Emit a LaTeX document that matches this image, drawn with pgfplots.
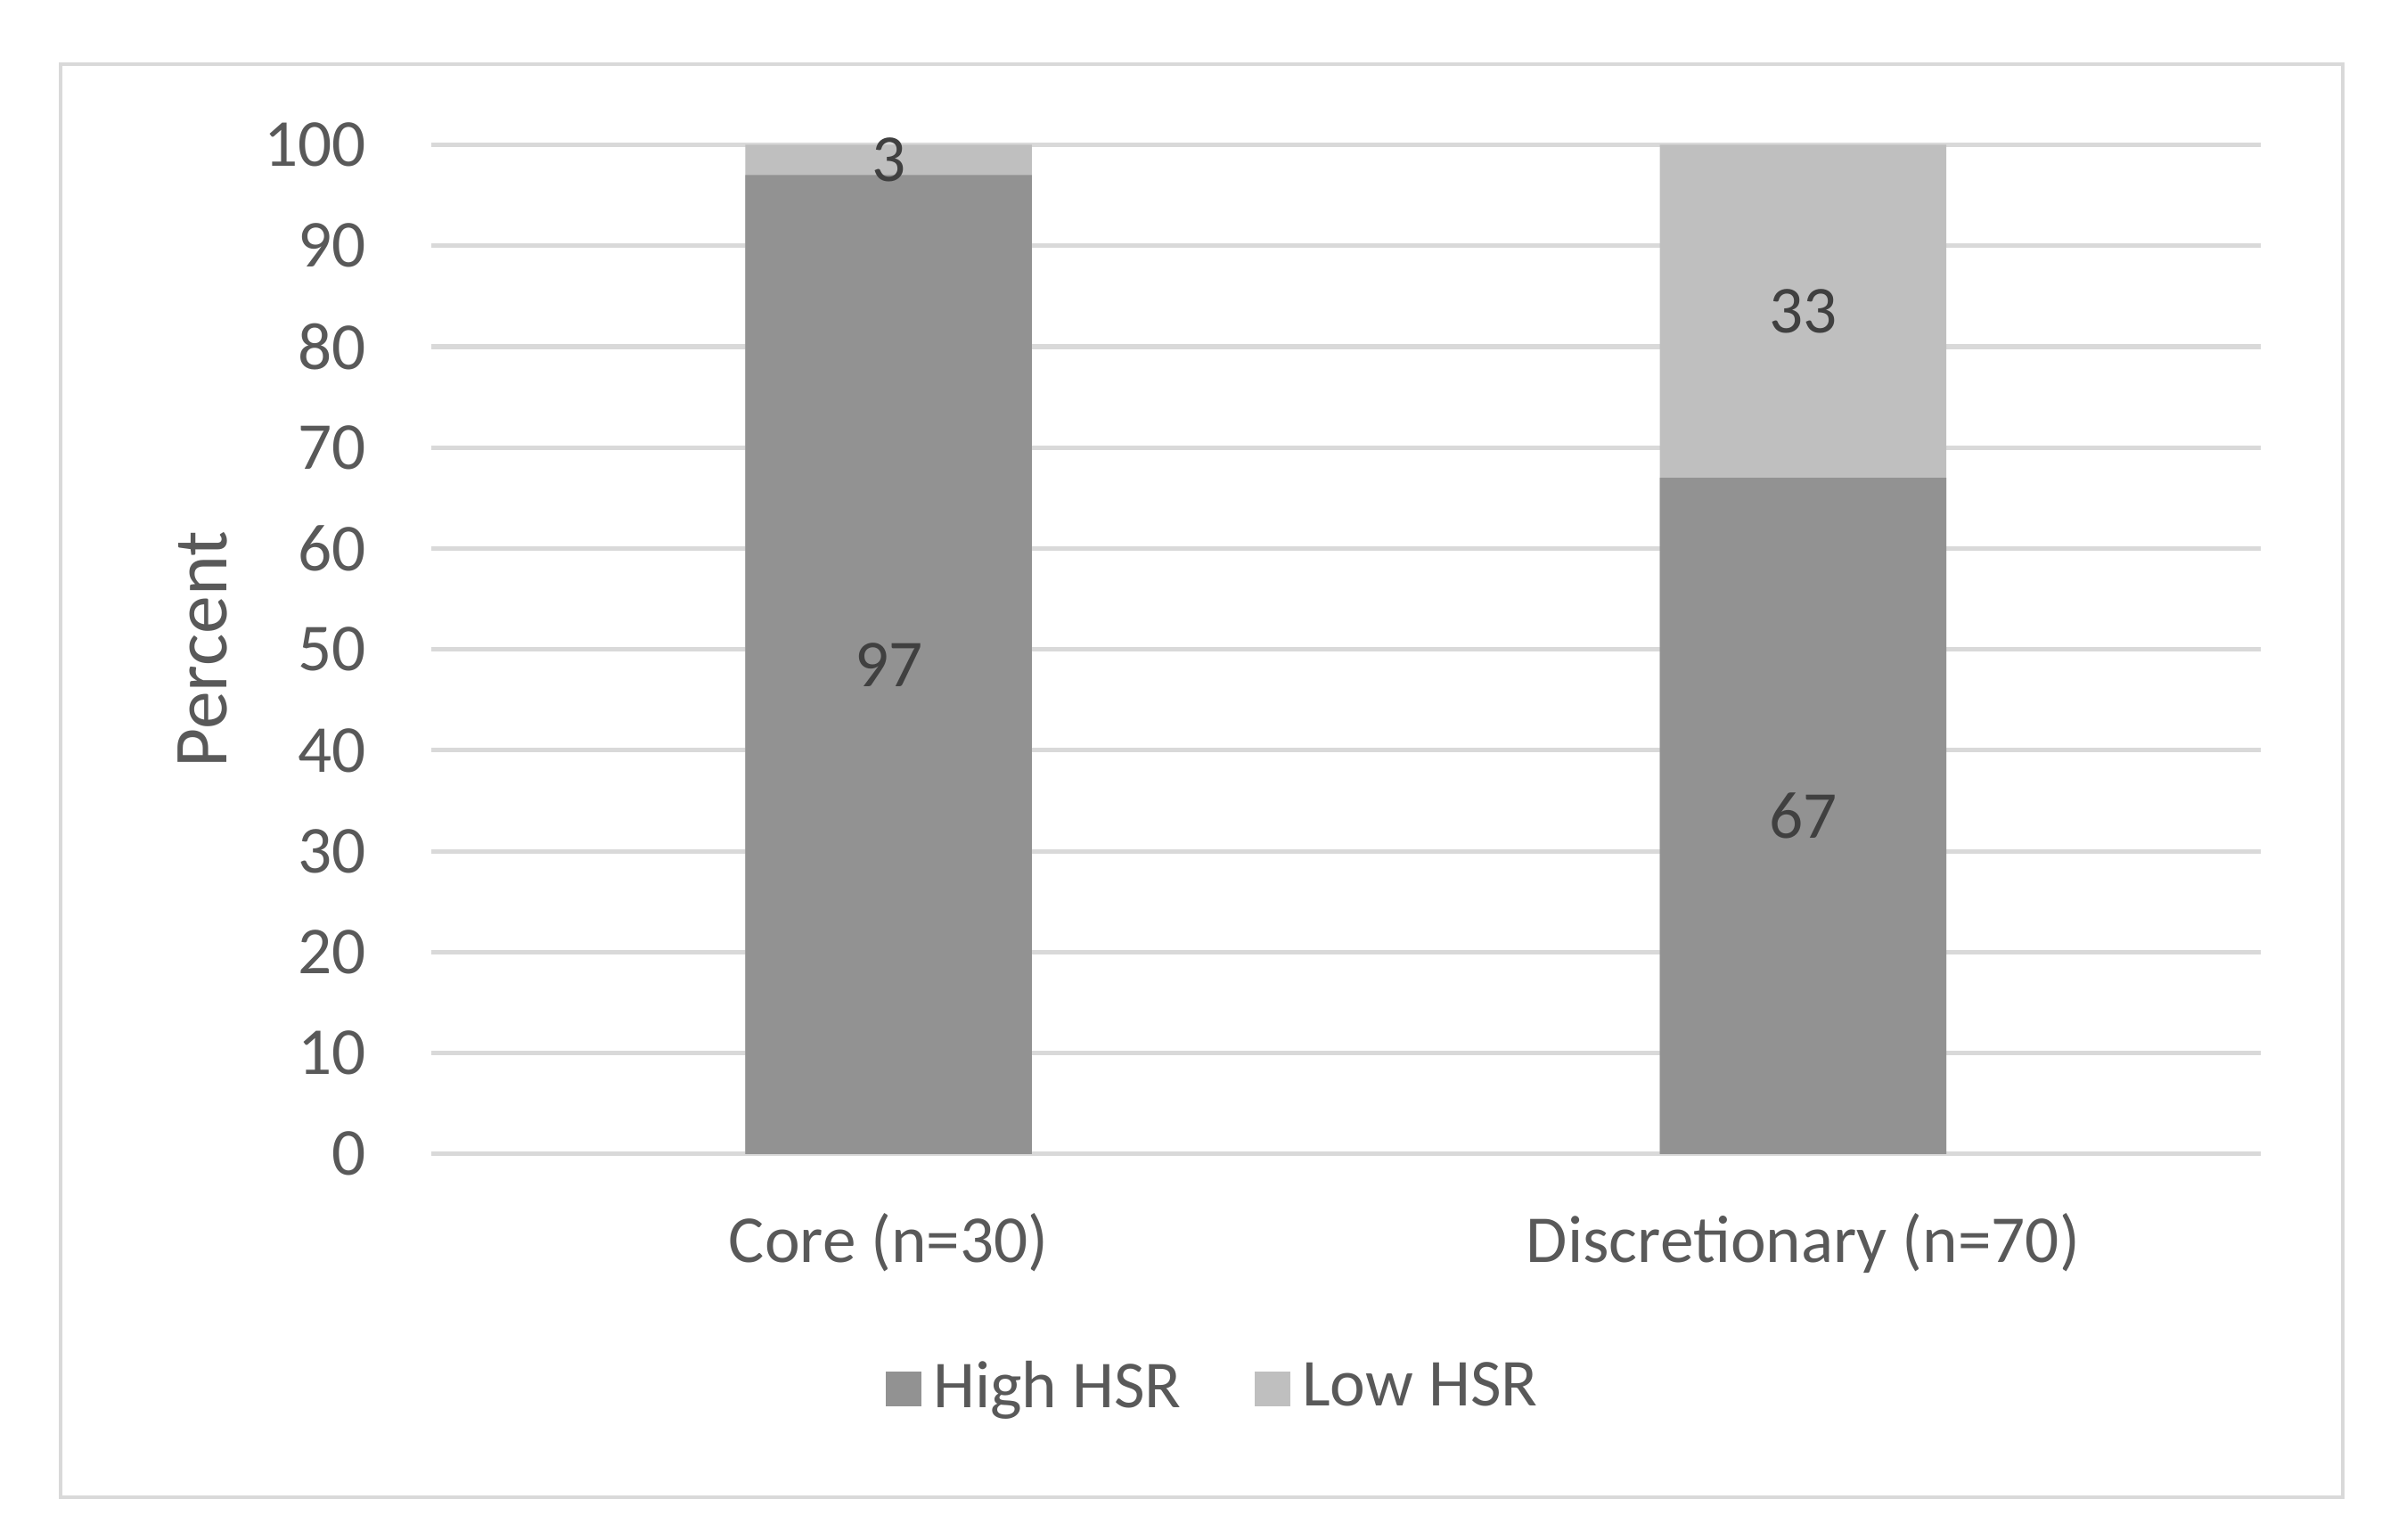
\documentclass[border=0pt]{standalone}
\usepackage{pgfplots}
\usepackage{pgfplotstable}
\pgfplotsset{compat=1.18}
\usepackage{fontspec}
\setmainfont{Carlito}
\definecolor{txt}{HTML}{595959}
\definecolor{lbl}{HTML}{404040}
\definecolor{grd}{HTML}{D9D9D9}
\definecolor{hi}{HTML}{929292}
\definecolor{lo}{HTML}{BFBFBF}

\pgfplotstableread{
x hi lo
0 97 3
1 67 33
}\data

\begin{document}
\begin{tikzpicture}[font=\fontsize{11}{13}\selectfont]
\begin{axis}[
  scale only axis, width=300pt, height=165.5pt,
  xmin=-0.5, xmax=1.5, ymin=0, ymax=100,
  xtick={0,1}, xticklabels={Core (n=30),Discretionary (n=70)},
  ytick={0,10,...,100},
  ymajorgrids, grid style={grd, line width=0.75pt},
  axis line style={draw=none}, major tick length=0pt,
  tick label style={text=txt},
  /pgf/number format/assume math mode=true,
  yticklabel style={anchor=east, inner sep=0pt, xshift=-10.5pt},
  xticklabel style={anchor=north, inner sep=0pt, yshift=-9.5pt},
  ylabel={Percent},
  every axis y label/.style={at={([xshift=-37.5pt]axis description cs:0,0.5)}, rotate=90, anchor=center, text=txt, font=\fontsize{12.5}{14}\selectfont},
  legend style={at={(axis description cs:0.43,-0.233)}, anchor=center, draw=none, fill=none,
    legend columns=2, text=txt, /tikz/every even column/.append style={column sep=10pt}},
  legend image code/.code={\fill[#1,draw=none] (0pt,-2.9pt) rectangle (5.8pt,2.9pt);},
  bars/.style={ybar, bar width=47pt, bar shift=0pt, draw=none, forget plot},
  vals/.style={draw=none, mark=none, forget plot, nodes near coords, point meta=explicit,
    every node near coord/.append style={anchor=center, text=lbl}},
]
% light bar spans the whole stack, dark bar drawn over it
\addplot[bars, fill=lo] table[x=x, y expr=\thisrow{hi}+\thisrow{lo}] {\data};
\addplot[bars, fill=hi] table[x=x, y=hi] {\data};
% value labels at the middle of each segment
\addplot[vals] table[x=x, y expr=\thisrow{hi}/2, meta=hi] {\data};
\addplot[vals] table[x=x, y expr=\thisrow{hi}+\thisrow{lo}/2, meta=lo] {\data};
\addlegendimage{fill=hi, draw=none}
\addlegendentry{High HSR}
\addlegendimage{fill=lo, draw=none}
\addlegendentry{Low HSR}
\end{axis}
\draw[grd, line width=0.6pt] ([shift={(-60.75pt,-56.25pt)}]current axis.south west) rectangle ([shift={(313.5pt,178.75pt)}]current axis.south west);
\pgfresetboundingbox
\useasboundingbox ([shift={(-70.75pt,-63.25pt)}]current axis.south west) rectangle ([shift={(321.25pt,189.25pt)}]current axis.south west);
\end{tikzpicture}
\end{document}
